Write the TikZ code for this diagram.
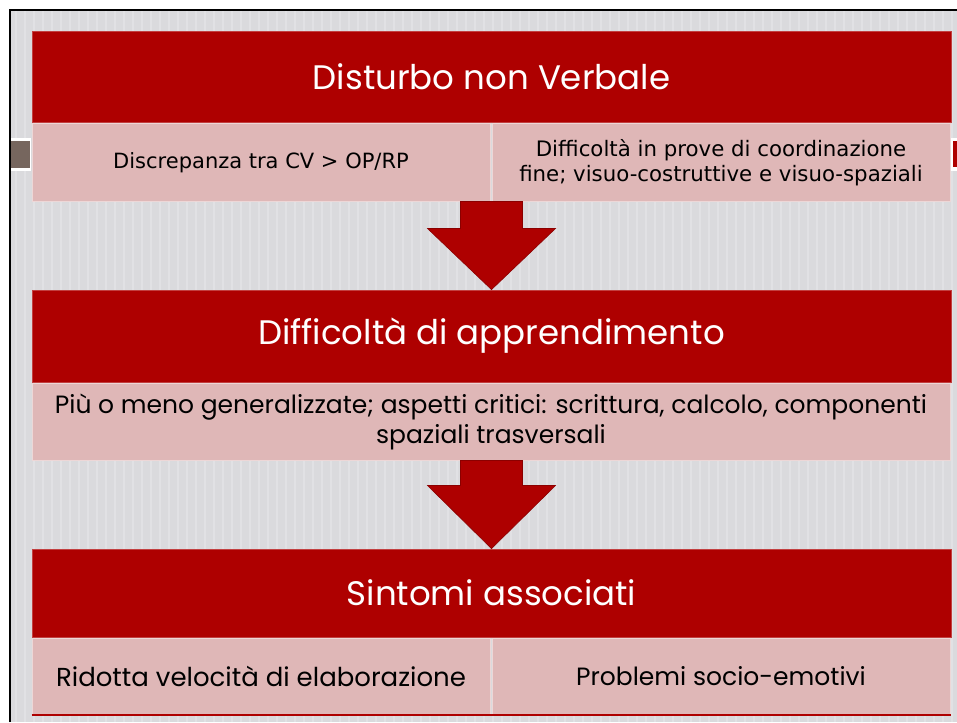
\documentclass[tikz,border=0pt]{standalone}
\usepackage{fontspec}
\setmainfont{Poppins}
\newfontfamily\cellfont{DejaVu Sans}
\usepackage{tikz}
\usetikzlibrary{calc}
\definecolor{barred}{RGB}{174, 0, 0}
\definecolor{cellpink}{RGB}{223, 183, 183}
\definecolor{slidegray}{RGB}{218, 218, 221}
\definecolor{stripegray}{RGB}{225, 225, 228}
\definecolor{tabbrown}{RGB}{118, 102, 94}

\begin{document}
\begin{tikzpicture}[x=1pt,y=-1pt,
        redbar/.style={fill=barred,draw=barred!75!white,line width=0.8pt,text=white,
            minimum width=919pt,inner sep=0pt,font=\fontsize{34}{40}\selectfont},
        pinkcell/.style={fill=cellpink,draw=cellpink!55!white,line width=1pt,
            align=center,inner sep=0pt,text=black},
        arrowred/.style={fill=barred,draw=barred!80!black,line width=0.6pt}]
        \useasboundingbox (0,0) rectangle (957,722);
        % slide background
        \fill[white] (0,0) rectangle (957,722);
        \fill[slidegray] (11,11) rectangle (957,722);
        \foreach \s in {16,25,...,957}
            \draw[stripegray,line width=2.5pt] (\s,11) -- (\s,722);
        \draw[black,line width=2pt] (10,722) -- (10,10) -- (957,10);
        % bits of the slide behind
        \fill[white] (11,138) rectangle (31,171);
        \fill[tabbrown] (11,141) rectangle (30,168);
        \fill[white] (950,138) rectangle (957,171);
        \fill[barred] (953,141) rectangle (957,167);

        \node[redbar,minimum height=91pt] (t1) at (491.5,77) {Disturbo non Verbale};
        \node[pinkcell,minimum width=458pt,minimum height=77pt,
            font=\cellfont\fontsize{21}{25}\selectfont] (p1a) at (261,162.5)
            {Discrepanza tra CV > OP/RP};
        \node[pinkcell,minimum width=458pt,minimum height=77pt,
            font=\cellfont\fontsize{21.3}{25}\selectfont] (p1b) at (721,162.5)
            {Difficoltà in prove di coordinazione\\fine; visuo-costruttive e visuo-spaziali};

        \node[redbar,minimum height=92pt] (t2) at (491.5,336) {Difficoltà di apprendimento};
        \node[pinkcell,minimum width=918pt,minimum height=77pt,
            font=\fontsize{25}{30}\selectfont] (p2) at (491,421.5)
            {Più o meno generalizzate; aspetti critici: scrittura, calcolo, componenti\\spaziali trasversali};

        \node[redbar,minimum height=88pt] (t3) at (491.5,593) {Sintomi associati};
        \node[pinkcell,minimum width=458pt,minimum height=76pt,
            font=\fontsize{26}{30}\selectfont] (p3a) at (261,676.5)
            {Ridotta velocità di elaborazione};
        \node[pinkcell,minimum width=458pt,minimum height=76pt,
            font=\fontsize{25}{30}\selectfont] (p3b) at (721,676.5)
            {Problemi socio-emotivi};
        \draw[barred,line width=2pt] (p3a.south west) -- (p3b.south east);

        % block arrows
        \foreach \from/\to/\len in {p1a/t2/27,p2/t3/25}{
            \coordinate (s) at (\to.north |- \from.south);
            \fill[arrowred] ([xshift=-31pt]s) -- ([xshift=-31pt,yshift=-\len pt]s)
                -- ([xshift=-64pt,yshift=-\len pt]s) -- (\to.north)
                -- ([xshift=64pt,yshift=-\len pt]s) -- ([xshift=31pt,yshift=-\len pt]s)
                -- ([xshift=31pt]s) -- cycle;
        }
\end{tikzpicture}
\end{document}
